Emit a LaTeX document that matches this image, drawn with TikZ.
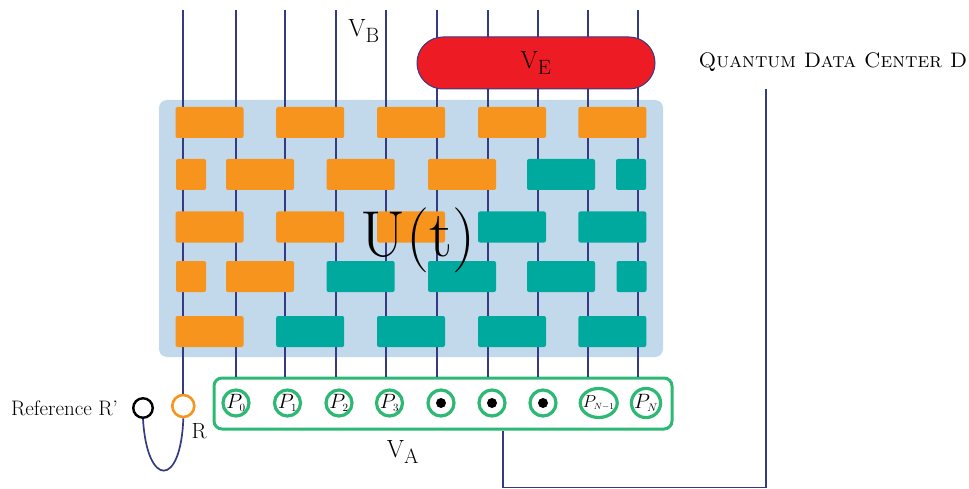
\documentclass[tikz,border=0pt]{standalone}
\usepackage{xcolor}
\usepackage{amsmath}
\usepackage{tikz}
\usetikzlibrary{shapes.geometric,positioning,calc}
\definecolor{WireNavy}{HTML}{353A82}
\definecolor{GateOrange}{HTML}{F7941D}
\definecolor{GateTeal}{HTML}{00A99D}
\definecolor{SoftBlue}{HTML}{C2D9EC}
\definecolor{EveRed}{HTML}{ED1C24}
\definecolor{RegGreen}{HTML}{2DB873}
\tikzset{
  % Wire
  wr/.style={draw=WireNavy,line width=1.7pt},
  % Base gate
  GT/.style={rectangle,rounded corners=2pt,minimum width=68pt,minimum height=31pt,
             inner sep=0pt,draw=none},
  % Colour variants
  gO/.style={GT,fill=GateOrange},
  gT/.style={GT,fill=GateTeal},
  sO/.style={gO,minimum width=30pt},
  sT/.style={gT,minimum width=30pt},
  % Register qubits
  QB/.style={circle,draw=RegGreen,line width=3.2pt,fill=white,minimum size=26pt,
             inner sep=0pt,font=\fontsize{21}{21}\selectfont},
  dt/.style={circle,fill=black,minimum size=10pt,inner sep=0pt},
  % Label styles
  LB/.style={inner sep=0pt,font=\fontsize{29}{29}\selectfont},
  LS/.style={inner sep=0pt,font=\fontsize{21}{21}\selectfont}
}

\begin{document}
\begin{tikzpicture}[x=1pt,y=-1pt]
  \useasboundingbox (0,0) rectangle (969,489);
  \foreach \x [count=\k from 0] in {183.3,235.7,284.7,335.7,385.7,436.7,487.7,537.7,587.7,637.7}
    \coordinate (w\k) at (\x,10);

  % block U(t)
  \node[fill=SoftBlue,rounded corners=8pt,minimum width=504pt,minimum height=257pt] (blk) at (411,228.5) {};

  % register V_A and reference
  \node[draw=RegGreen,line width=3pt,fill=white,rounded corners=8pt,
        minimum width=458pt,minimum height=51pt] (VAbox) at (443,403.5) {};
  \foreach \x/\n [count=\k] in {236/0,287.5/1,339/2,389.5/3}
    \node[QB] (p\k) at (\x,403) {$P_{\scriptscriptstyle\n}$};
  \foreach \x [count=\k] in {441,492,543}{
    \node[QB] (d\k) at (\x,403) {};
    \node[dt] at (d\k) {};
  }
  \node[QB,ellipse,minimum width=37pt,minimum height=29pt,font=\fontsize{18}{18}\selectfont]
       (pn1) at (598.7,403) {\makebox[16pt]{$P_{\scriptscriptstyle N-1}$}};
  \node[QB] (pn) at (646,403) {$P_{\scriptscriptstyle N}$};
  \node[circle,draw=GateOrange,line width=2.6pt,fill=white,minimum size=22pt] (R) at (183.3,406) {};
  \node[circle,draw=black,line width=2.4pt,fill=white,minimum size=19.5pt] (Rp) at (143,408) {};
  \node[LS,left=14pt of Rp] (RpL) {Reference R'};
  \node[inner sep=0pt,font=\fontsize{22}{22}\selectfont] (RL) at (199,431) {R};
  \node[LB] (VA) at (403,452) {$\mathrm{V}_{\mathrm{A}}$};

  % wires
  \draw[wr] (w0) -- (R.north);
  \foreach \k in {1,...,9}
    \draw[wr] (w\k) -- (w\k |- VAbox.north);
  \draw[wr] (Rp.south) .. controls (147,488) and (181,488) .. (R.south);

  % link to the data center
  \node[inner sep=0pt,font=\fontsize{21}{21}\selectfont] (QDC) at (833,62) {\textsc{Quantum Data Center D}};
  \coordinate (dc) at (766,89);
  \coordinate (bend) at (766,487.5);
  \coordinate (tap) at (502.7,0);
  \draw[wr,line width=1.8pt] (VAbox.south -| tap) |- (bend) -- (dc);

  % gates
  \foreach \x/\s [count=\k] in {209.5/gO,310.2/gO,411/gO,512/gO,612.3/gO}
    \node[\s] (a\k) at (\x,122.5) {};
  \foreach \x/\s [count=\k] in {191/sO,260/gO,360.6/gO,462/gO,561/gT,631/sT}
    \node[\s] (b\k) at (\x,174.5) {};
  \foreach \x/\s [count=\k] in {209.5/gO,310.2/gO,411/gO,512/gT,612.3/gT}
    \node[\s] (c\k) at (\x,227) {};
  \foreach \x/\s [count=\k] in {191/sO,260/gO,360.6/gT,462/gT,561/gT,631.5/sT}
    \node[\s] (e\k) at (\x,276.5) {};
  \foreach \x/\s [count=\k] in {209.5/gO,310.2/gT,411/gT,512/gT,612.3/gT}
    \node[\s] (f\k) at (\x,331.5) {};
  \node[inner sep=0pt,font=\fontsize{65}{65}\selectfont] (Ut) at (418,240) {U(t)};

  % eavesdropper V_E and V_B
  \node[LB,draw=WireNavy,line width=1pt,fill=EveRed,rounded corners=25.9pt,
        minimum width=238pt,minimum height=52pt] (VE) at (536,63) {$\mathrm{V}_{\mathrm{E}}$};
  \node[LB] (VB) at (364,31) {$\mathrm{V}_{\mathrm{B}}$};
\end{tikzpicture}
\end{document}
